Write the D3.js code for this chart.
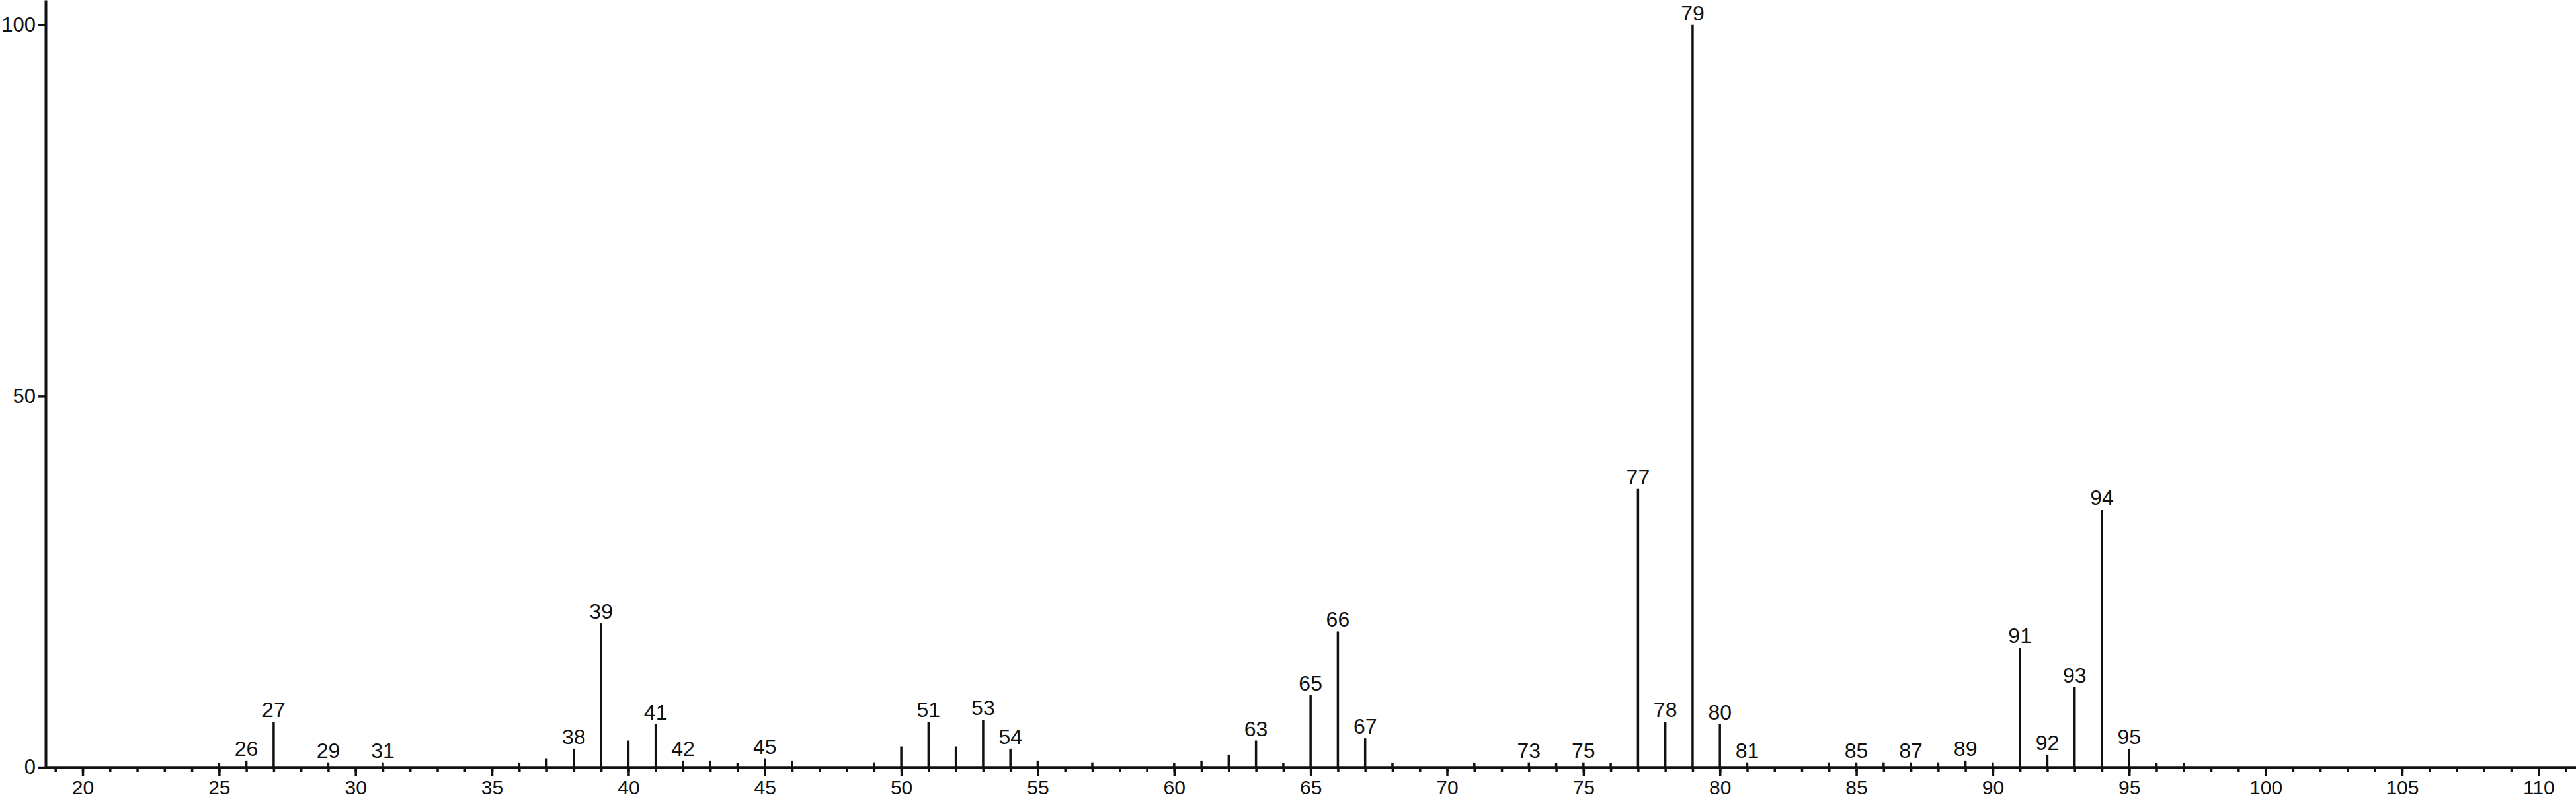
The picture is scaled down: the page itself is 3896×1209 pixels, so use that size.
<!DOCTYPE html>
<meta charset="utf-8">
<style>
  body { margin: 0; background: #fff; }
  svg text { font-family: "Liberation Sans", Arial, sans-serif; fill: #111; }
</style>
<svg width="3896" height="1209"></svg>
<script src="https://d3js.org/d3.v7.min.js"></script>
<script>

// m/z values and relative intensities (%)
var mz = [25, 26, 27, 29, 31, 36, 37, 38, 39, 40, 41, 42, 43, 44, 45, 46, 49, 50, 51, 52,
          53, 54, 55, 57, 60, 61, 62, 63, 64, 65, 66, 67, 68, 71, 73, 74, 75, 76, 77, 78,
          79, 80, 81, 84, 85, 86, 87, 88, 89, 90, 91, 92, 93, 94, 95, 96, 97];
var intensity = [0.6, 0.9, 6.1, 0.65, 0.65, 0.6, 1.2, 2.5, 19.4, 3.6, 5.8, 0.9, 0.9, 0.6, 1.2, 0.9, 0.65, 2.8, 6.1, 2.8,
                 6.4, 2.5, 0.9, 0.65, 0.6, 0.9, 1.7, 3.6, 0.6, 9.7, 18.3, 3.9, 0.6, 0.6, 0.65, 0.6, 0.65, 0.6, 37.5, 6.1,
                 100, 5.8, 0.65, 0.65, 0.65, 0.65, 0.65, 0.65, 0.9, 0.65, 16.1, 1.7, 10.8, 34.7, 2.5, 0.6, 0.6];

// peaks that carry a label
var labelled = [26, 27, 29, 31, 38, 39, 41, 42, 45, 51, 53, 54, 63, 65, 66, 67, 73, 75, 77, 78,
                79, 80, 81, 85, 87, 89, 91, 92, 93, 94, 95];

var xMajor = d3.range(20, 111, 5);
var xMinor = d3.range(19, 112, 1);
var yTicks = [0, 50, 100];

var peaks = mz.map(function(m, i) { return {mz: m, v: intensity[i]}; });

var svg = d3.select("svg"),
    width = +svg.attr("width"),
    height = +svg.attr("height");

var x0 = 69, base = 1161;

var x = d3.scaleLinear()
    .domain([20 - (125 - x0) / 41.27, 20 + (width - 125) / 41.27])
    .range([x0, width]);

var y = d3.scaleLinear()
    .domain([0, 100 + 37.7 / 11.233])
    .range([base, 0]);

// minor ticks
svg.append("g")
    .attr("transform", "translate(0," + base + ")")
    .call(d3.axisBottom(x).tickValues(xMinor).tickSize(7).tickSizeOuter(0).tickFormat(""))
    .call(function(g) { g.select(".domain").remove(); })
    .selectAll("line").attr("stroke", "#111").attr("stroke-width", 3.5);

// major ticks + labels
var xAxis = svg.append("g")
    .attr("transform", "translate(0," + base + ")")
    .call(d3.axisBottom(x).tickValues(xMajor).tickSize(13).tickSizeOuter(0).tickPadding(7));
xAxis.select(".domain").attr("stroke", "#111").attr("stroke-width", 4.5);
xAxis.selectAll("line").attr("stroke", "#111").attr("stroke-width", 3.5);
xAxis.selectAll("text").attr("font-size", 30).attr("fill", "#111")
    .style("font-family", '"Liberation Sans", Arial, sans-serif');

var yAxis = svg.append("g")
    .attr("transform", "translate(" + x0 + ",0)")
    .call(d3.axisLeft(y).tickValues(yTicks).tickSize(12).tickSizeOuter(0).tickPadding(3));
yAxis.select(".domain").attr("stroke", "#111").attr("stroke-width", 4);
yAxis.selectAll("line").attr("stroke", "#111").attr("stroke-width", 3.5);
yAxis.selectAll("text").attr("font-size", 31).attr("fill", "#111")
    .style("font-family", '"Liberation Sans", Arial, sans-serif');

// peaks
svg.append("g")
    .attr("class", "peaks")
  .selectAll("line")
  .data(peaks)
  .enter().append("line")
  .attr("x1", function(d) { return x(d.mz); })
  .attr("x2", function(d) { return x(d.mz); })
  .attr("y1", y(0))
  .attr("y2", function(d) { return y(d.v); })
  .attr("stroke", "#111")
  .attr("stroke-width", 3.5);

svg.append("g")
    .attr("class", "labels")
  .selectAll("text")
  .data(peaks.filter(function(d) { return labelled.indexOf(d.mz) >= 0; }))
  .enter().append("text")
  .attr("x", function(d) { return x(d.mz); })
  .attr("y", function(d) { return y(d.v) - 7; })
  .attr("text-anchor", "middle")
  .attr("font-size", 32)
  .text(function(d) { return d.mz; });

</script>
